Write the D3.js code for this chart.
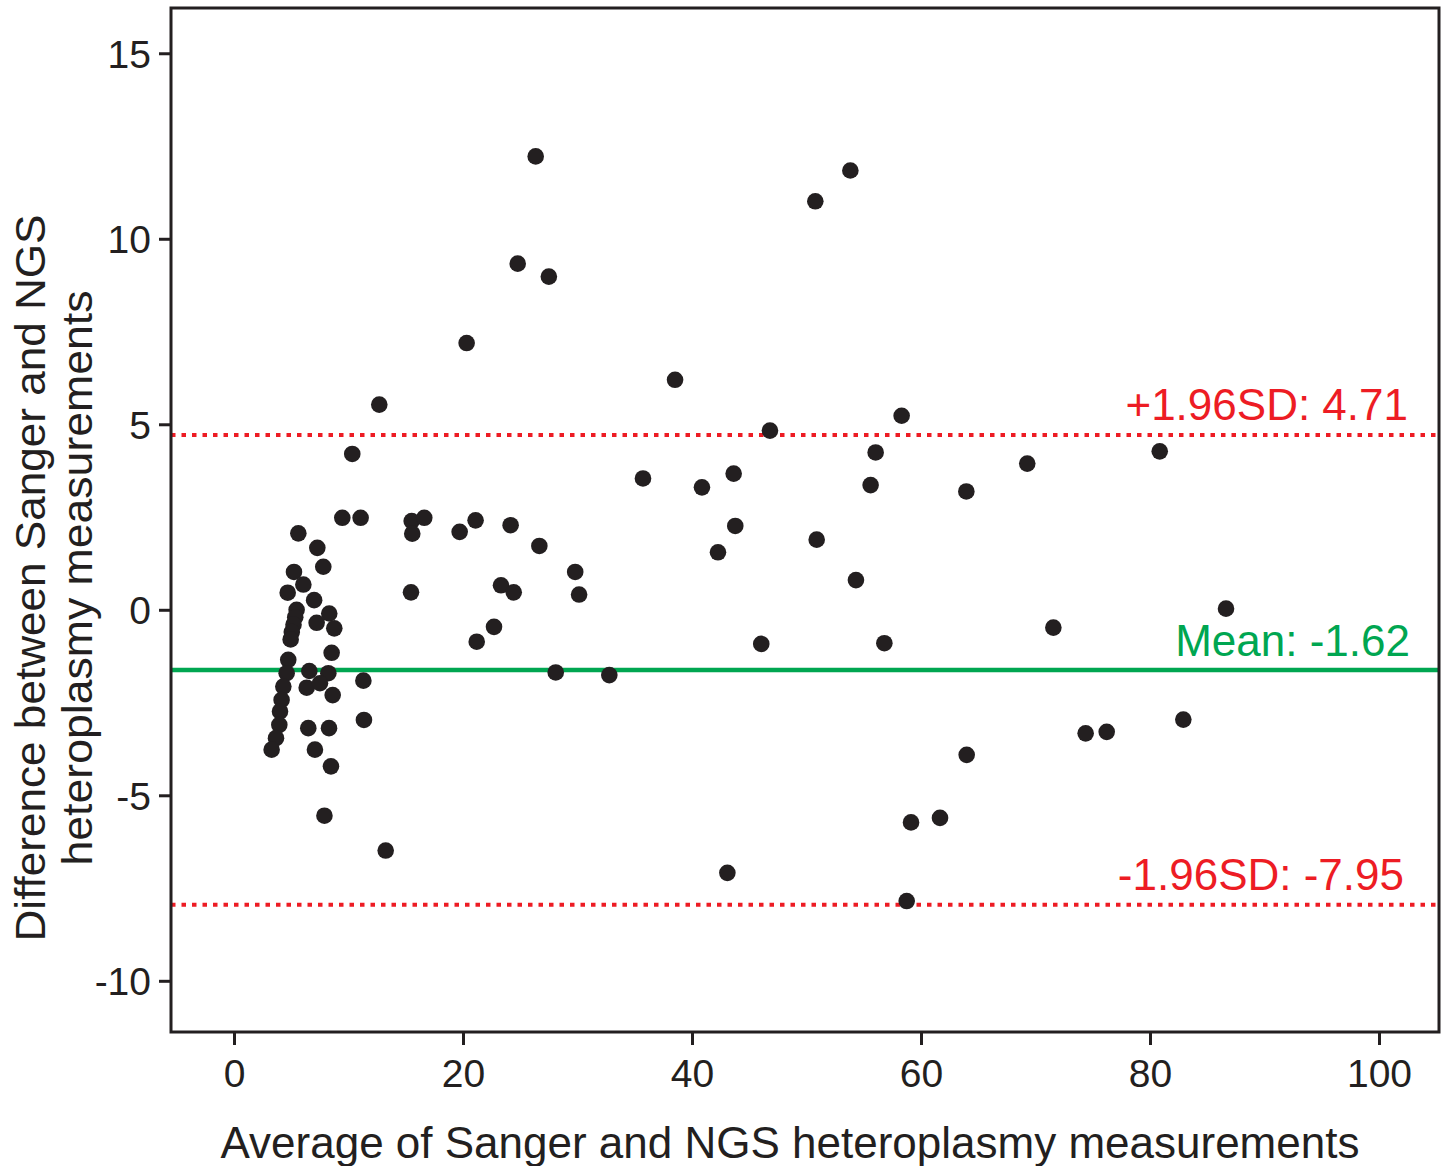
<!DOCTYPE html>
<html>
<head>
<meta charset="utf-8">
<script src="https://cdn.jsdelivr.net/npm/d3@7"></script>
<style>
  body { margin: 0; background: #fff; }
  text { font-family: "Liberation Sans", Arial, sans-serif; }
</style>
</head>
<body>
<svg width="1446" height="1166"></svg>
<script>
// average (x) and difference (y)
const avgVals = [
  5.62, 7.28, 7.8, 5.24, 6.06, 4.69, 7.0, 8.32, 7.22, 8.76,
  5.47, 5.35, 5.2, 5.05, 4.95, 8.53, 4.74, 4.6, 4.31, 4.16,
  4.02, 3.96, 3.67, 3.29, 6.58, 8.24, 6.35, 7.51, 8.62, 11.3,
  11.35, 6.49, 8.3, 7.07, 8.47, 7.9,
  26.35, 24.78, 27.5, 20.32, 12.69, 10.33, 9.46, 11.06, 15.52, 16.62,
  15.57, 19.71, 21.1, 24.16, 26.67, 29.8, 30.14, 15.46, 23.32, 24.43,
  22.71, 21.2, 28.1, 32.78, 13.25,
  53.83, 50.77, 38.52, 58.31, 46.81, 56.04, 35.72, 43.64, 40.87, 55.6,
  43.78, 42.27, 50.89, 54.32, 46.05, 56.8, 63.99, 59.13, 61.66, 43.09,
  58.75, 63.96, 69.28, 80.85, 86.64, 71.56, 82.91, 74.38, 76.22
];
const diffVals = [
  2.06, 1.67, 1.16, 1.02, 0.68, 0.46, 0.26, -0.1, -0.35, -0.5,
  0.0, -0.2, -0.4, -0.6, -0.8, -1.16, -1.35, -1.71, -2.07, -2.43,
  -2.74, -3.1, -3.46, -3.77, -1.65, -1.71, -2.1, -1.98, -2.3, -1.91,
  -2.97, -3.19, -3.19, -3.77, -4.22, -5.55,
  12.22, 9.33, 8.98, 7.19, 5.53, 4.2, 2.48, 2.48, 2.39, 2.48,
  2.05, 2.1, 2.41, 2.28, 1.72, 1.02, 0.41, 0.47, 0.66, 0.47,
  -0.46, -0.86, -1.69, -1.76, -6.49,
  11.84, 11.01, 6.2, 5.23, 4.83, 4.24, 3.54, 3.67, 3.3, 3.36,
  2.26, 1.55, 1.89, 0.8, -0.92, -0.9, -3.91, -5.73, -5.61, -7.09,
  -7.85, 3.19, 3.94, 4.27, 0.03, -0.48, -2.96, -3.33, -3.29
];
const meanDiff = -1.62;
const upperLoA = 4.71;
const lowerLoA = -7.95;
const xTicks = [0, 20, 40, 60, 80, 100];
const yTicks = [-10, -5, 0, 5, 10, 15];

const points = avgVals.map((a, i) => ({ avg: a, diff: diffVals[i] }));

const svg = d3.select('svg');
const plotLeft = 171, plotTop = 8, plotRight = 1439, plotBottom = 1032;
const ink = '#231f20';

const x = d3.scaleLinear().domain([-5.5, 105.24]).range([plotLeft, plotRight]);
const y = d3.scaleLinear().domain([-11.38, 16.22]).range([plotBottom, plotTop]);

// reference lines
svg.append('line')
  .attr('x1', plotLeft).attr('x2', plotRight)
  .attr('y1', y(upperLoA)).attr('y2', y(upperLoA))
  .attr('stroke', '#ed1c24').attr('stroke-width', 4)
  .attr('stroke-dasharray', '4.5,6');
svg.append('line')
  .attr('x1', plotLeft).attr('x2', plotRight)
  .attr('y1', y(lowerLoA)).attr('y2', y(lowerLoA))
  .attr('stroke', '#ed1c24').attr('stroke-width', 4)
  .attr('stroke-dasharray', '4.5,6');
svg.append('line')
  .attr('x1', plotLeft).attr('x2', plotRight)
  .attr('y1', y(meanDiff)).attr('y2', y(meanDiff))
  .attr('stroke', '#00a651').attr('stroke-width', 4.5);

// points
svg.append('g')
  .selectAll('circle')
  .data(points)
  .enter()
  .append('circle')
  .attr('cx', d => x(d.avg))
  .attr('cy', d => y(d.diff))
  .attr('r', 8.3)
  .attr('fill', ink);

// frame
svg.append('rect')
  .attr('x', plotLeft).attr('y', plotTop)
  .attr('width', plotRight - plotLeft).attr('height', plotBottom - plotTop)
  .attr('fill', 'none').attr('stroke', ink).attr('stroke-width', 3);

// axes (plain hyphen for negatives, like the original)
const xAxis = svg.append('g')
  .attr('transform', `translate(0,${plotBottom})`)
  .call(d3.axisBottom(x).tickValues(xTicks).tickFormat(d => String(d)).tickSize(13).tickPadding(14));
const yAxis = svg.append('g')
  .attr('transform', `translate(${plotLeft},0)`)
  .call(d3.axisLeft(y).tickValues(yTicks).tickFormat(d => String(d)).tickSize(12).tickPadding(8));
[xAxis, yAxis].forEach(g => {
  g.select('.domain').remove();
  g.selectAll('line').attr('stroke', ink).attr('stroke-width', 3);
  g.selectAll('text')
    .attr('fill', ink)
    .style('font-family', '"Liberation Sans", Arial, sans-serif')
    .style('font-size', '39px');
});
yAxis.selectAll('text').attr('dy', '0.36em');

// line labels
svg.append('text')
  .attr('x', 1408).attr('y', 420)
  .attr('text-anchor', 'end')
  .attr('fill', '#ed1c24')
  .style('font-size', '44px')
  .text('+1.96SD: ' + upperLoA.toFixed(2));
svg.append('text')
  .attr('x', 1410).attr('y', 656)
  .attr('text-anchor', 'end')
  .attr('fill', '#00a651')
  .style('font-size', '44px')
  .text('Mean: ' + meanDiff.toFixed(2));
svg.append('text')
  .attr('x', 1404).attr('y', 890)
  .attr('text-anchor', 'end')
  .attr('fill', '#ed1c24')
  .style('font-size', '44px')
  .text('-1.96SD: ' + lowerLoA.toFixed(2));

// axis titles
svg.append('text')
  .attr('x', 790).attr('y', 1158)
  .attr('text-anchor', 'middle')
  .attr('fill', ink)
  .style('font-size', '44px')
  .text('Average of Sanger and NGS heteroplasmy measurements');

const yTitle = svg.append('text')
  .attr('transform', 'translate(0,578) rotate(-90)')
  .attr('text-anchor', 'middle')
  .attr('fill', ink)
  .style('font-family', '"Liberation Sans Narrow", "Liberation Sans", sans-serif')
  .style('font-size', '42px');
yTitle.append('tspan')
  .attr('x', 0).attr('y', 45)
  .attr('textLength', 727).attr('lengthAdjust', 'spacingAndGlyphs')
  .text('Difference between Sanger and NGS');
yTitle.append('tspan')
  .attr('x', 0).attr('y', 92)
  .attr('textLength', 575).attr('lengthAdjust', 'spacingAndGlyphs')
  .text('heteroplasmy measurements');
</script>
</body>
</html>
